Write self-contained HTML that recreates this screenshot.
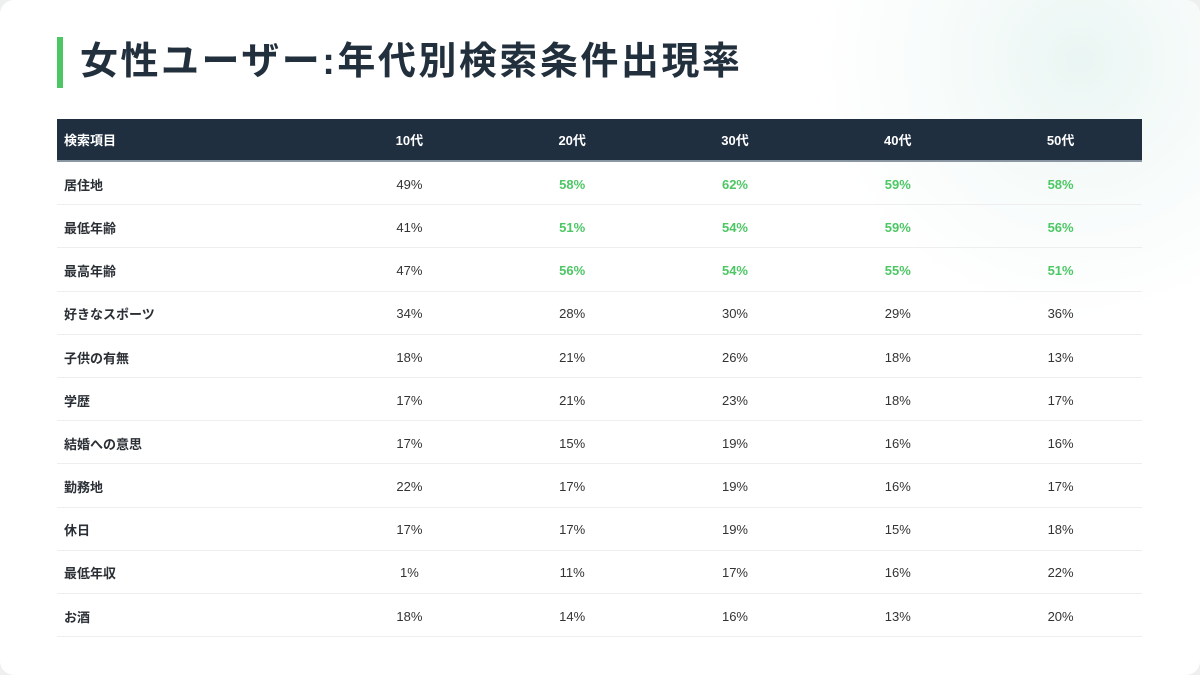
<!DOCTYPE html><html><head><meta charset="utf-8"><style>
body{margin:0;width:1200px;height:675px;background:#eef0f0;font-family:"Liberation Sans","Noto Sans CJK JP",sans-serif;overflow:hidden}
.card{position:absolute;left:0;top:0;width:1200px;height:675px;border-radius:14px;background:radial-gradient(circle at 1080px 60px,#eaf6f3 0,#f6fbfa 120px,#fff 260px);}
.bar{position:absolute;left:57px;top:37px;width:6px;height:51px;background:#4cc764}
h1{position:absolute;left:80px;top:36px;margin:0;font-size:38px;line-height:52px;font-weight:bold;color:#22303e;letter-spacing:2.5px}
table{position:absolute;left:57px;top:119px;width:1085px;border-collapse:collapse;font-size:13px;color:#333}
th{background:#1f2f40;color:#fff;height:41px;padding:0;font-weight:bold;text-align:center;border-bottom:2px solid #8a96a2}
td:first-child{color:#2a2f35}
th:first-child,td:first-child{text-align:left;padding-left:7px;width:264px;font-weight:bold}
td{height:39.8px;text-align:center;border-bottom:1px solid #eee;padding:2.4px 0 0 0}
.g{color:#4cc764;font-weight:bold}
</style></head><body><div class="card">
<div class="bar"></div><h1>女性ユーザー:年代別検索条件出現率</h1>
<table>
<tr><th>検索項目</th><th>10代</th><th>20代</th><th>30代</th><th>40代</th><th>50代</th></tr>
<tr><td>居住地</td><td>49%</td><td class="g">58%</td><td class="g">62%</td><td class="g">59%</td><td class="g">58%</td></tr>
<tr><td>最低年齢</td><td>41%</td><td class="g">51%</td><td class="g">54%</td><td class="g">59%</td><td class="g">56%</td></tr>
<tr><td>最高年齢</td><td>47%</td><td class="g">56%</td><td class="g">54%</td><td class="g">55%</td><td class="g">51%</td></tr>
<tr><td>好きなスポーツ</td><td>34%</td><td>28%</td><td>30%</td><td>29%</td><td>36%</td></tr>
<tr><td>子供の有無</td><td>18%</td><td>21%</td><td>26%</td><td>18%</td><td>13%</td></tr>
<tr><td>学歴</td><td>17%</td><td>21%</td><td>23%</td><td>18%</td><td>17%</td></tr>
<tr><td>結婚への意思</td><td>17%</td><td>15%</td><td>19%</td><td>16%</td><td>16%</td></tr>
<tr><td>勤務地</td><td>22%</td><td>17%</td><td>19%</td><td>16%</td><td>17%</td></tr>
<tr><td>休日</td><td>17%</td><td>17%</td><td>19%</td><td>15%</td><td>18%</td></tr>
<tr><td>最低年収</td><td>1%</td><td>11%</td><td>17%</td><td>16%</td><td>22%</td></tr>
<tr><td>お酒</td><td>18%</td><td>14%</td><td>16%</td><td>13%</td><td>20%</td></tr>
</table></div></body></html>
